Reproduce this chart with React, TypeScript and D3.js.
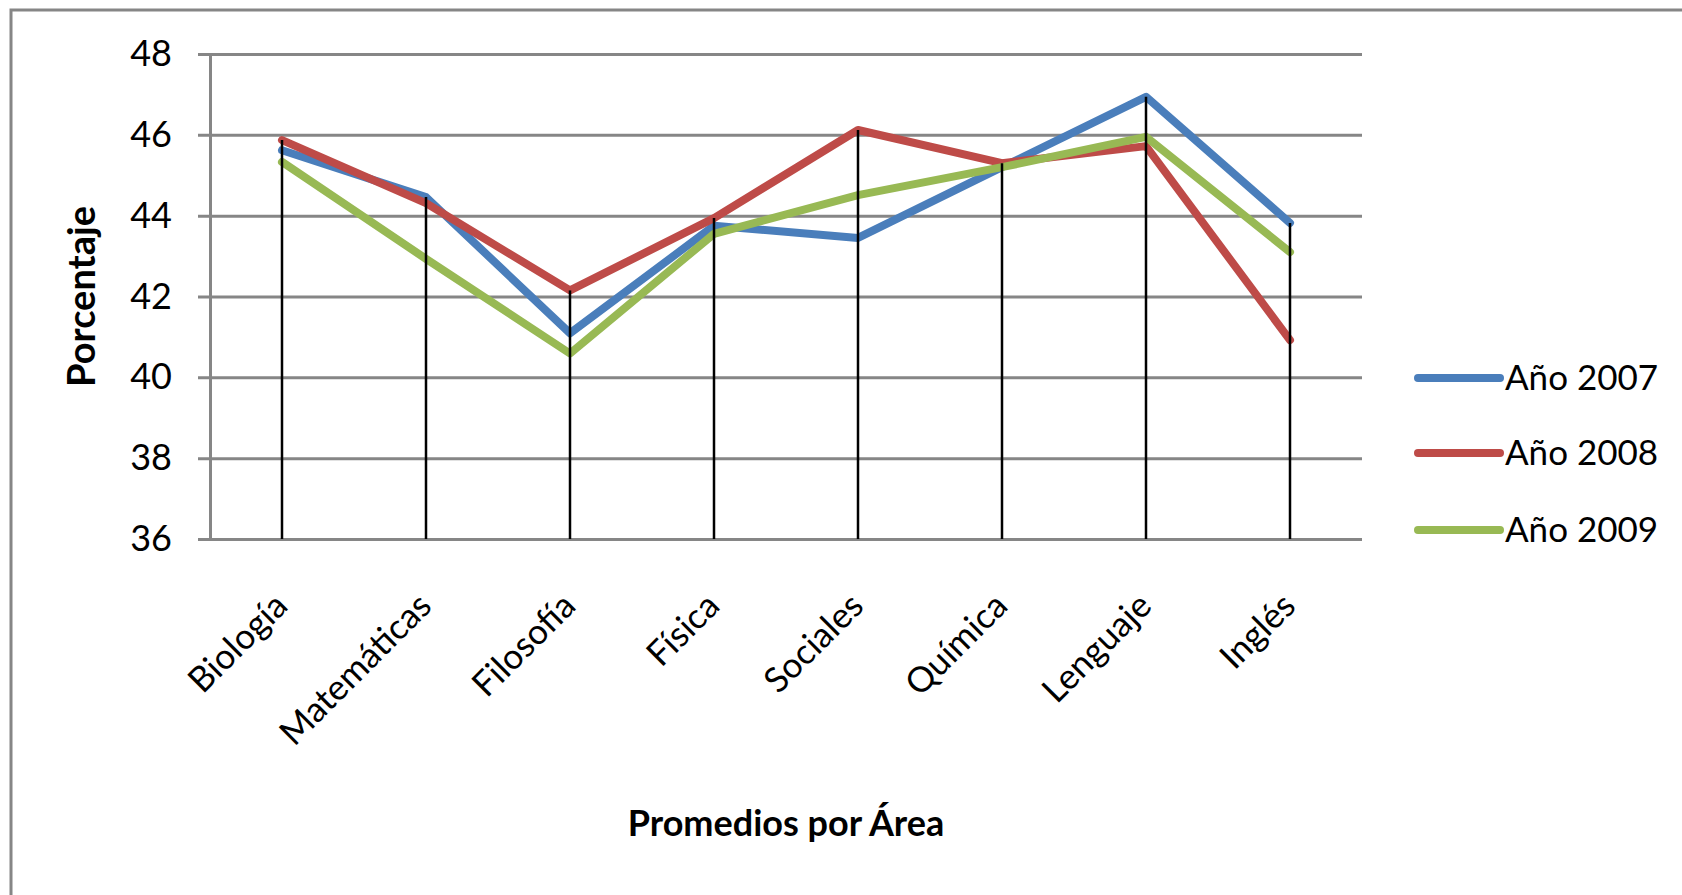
import { useRef, useEffect } from 'react';
import * as d3 from 'd3';

const categories = ['Biología', 'Matemáticas', 'Filosofía', 'Física', 'Sociales', 'Química', 'Lenguaje', 'Inglés'];
const serieNames = ['Año 2007', 'Año 2008', 'Año 2009'];
const serieColors = ['#4A7EBB', '#BE4B48', '#98B954'];
const values2007 = [45.62, 44.46, 41.09, 43.75, 43.45, 45.2, 46.94, 43.82];
const values2008 = [45.87, 44.31, 42.15, 43.94, 46.12, 45.3, 45.72, 40.92];
const values2009 = [45.33, 42.93, 40.59, 43.55, 44.51, 45.2, 45.95, 43.1];
const yTicks = [36, 38, 40, 42, 44, 46, 48];

const W = 1682;
const H = 895;
const FONT = 'Lato, "Noto Sans", sans-serif';

export default function App() {
  const svgRef = useRef<SVGSVGElement>(null);

  useEffect(() => {
    if (!svgRef.current) return;
    const svg = d3.select(svgRef.current);
    svg.selectAll('*').remove();

    const plot = { left: 210, right: 1362, top: 54, bottom: 539 };
    const series = [values2007, values2008, values2009];

    const x = d3.scalePoint<string>()
      .domain(categories)
      .range([plot.left, plot.right])
      .padding(0.5);

    const y = d3.scaleLinear()
      .domain([36, 48])
      .range([plot.bottom, plot.top]);

    // background + chart border (right/bottom edges fall outside the picture)
    svg.append('rect').attr('width', W).attr('height', H).attr('fill', '#fff');
    svg.append('rect')
      .attr('x', 11).attr('y', 10)
      .attr('width', W + 40).attr('height', H + 40)
      .attr('fill', 'none')
      .attr('stroke', '#868686')
      .attr('stroke-width', 3);

    // Grid (also gives the outside tick marks)
    const grid = svg.append('g')
      .attr('transform', `translate(${plot.left - 12},0)`)
      .call(d3.axisLeft(y).tickValues(yTicks).tickSize(-(plot.right - plot.left + 12)).tickFormat(() => ''));
    grid.select('.domain').remove();
    grid.selectAll('.tick line').attr('stroke', '#868686').attr('stroke-width', 3);

    // Y axis
    const yAxis = svg.append('g')
      .attr('transform', `translate(${plot.left},0)`)
      .call(d3.axisLeft(y).tickValues(yTicks).tickSize(0).tickPadding(38).tickFormat(d3.format('d')));
    yAxis.select('.domain').attr('stroke', '#868686').attr('stroke-width', 3);
    yAxis.selectAll('.tick text')
      .attr('fill', '#000')
      .style('font-family', FONT)
      .style('font-size', '36px');

    // X axis labels
    const xAxis = svg.append('g')
      .attr('transform', `translate(0,${plot.bottom})`)
      .call(d3.axisBottom(x).tickSize(0));
    xAxis.select('.domain').remove();
    xAxis.selectAll<SVGTextElement, string>('.tick text')
      .attr('fill', '#000')
      .attr('text-anchor', 'end')
      .attr('y', 0)
      .attr('dy', 0)
      .attr('transform', 'translate(7,69) rotate(-45)')
      .style('font-family', FONT)
      .style('font-size', '35px');

    // Series lines
    const line = d3.line<number>()
      .x((_, i) => x(categories[i]) as number)
      .y(d => y(d));

    series.forEach((vals, s) => {
      svg.append('path')
        .datum(vals)
        .attr('fill', 'none')
        .attr('stroke', serieColors[s])
        .attr('stroke-width', 8)
        .attr('stroke-linejoin', 'round')
        .attr('stroke-linecap', 'round')
        .attr('d', line);
    });

    // Drop lines
    categories.forEach((c, i) => {
      const top = d3.max(series, v => v[i]) as number;
      svg.append('line')
        .attr('x1', x(c) as number).attr('x2', x(c) as number)
        .attr('y1', y(top)).attr('y2', y(36))
        .attr('stroke', '#000')
        .attr('stroke-width', 2.5);
    });

    // Axis titles
    svg.append('text')
      .attr('transform', `translate(95,${(plot.top + plot.bottom) / 2}) rotate(-90)`)
      .attr('text-anchor', 'middle')
      .style('font-family', FONT)
      .style('font-weight', 'bold')
      .style('font-size', '38px')
      .text('Porcentaje');

    svg.append('text')
      .attr('x', (plot.left + plot.right) / 2)
      .attr('y', 836)
      .attr('text-anchor', 'middle')
      .style('font-family', FONT)
      .style('font-weight', 'bold')
      .style('font-size', '36px')
      .text('Promedios por Área');

    // Legend
    const legendY = [378, 453, 530];
    serieNames.forEach((name, s) => {
      svg.append('line')
        .attr('x1', 1418).attr('x2', 1500)
        .attr('y1', legendY[s]).attr('y2', legendY[s])
        .attr('stroke', serieColors[s])
        .attr('stroke-width', 8)
        .attr('stroke-linecap', 'round');
      svg.append('text')
        .attr('x', 1505)
        .attr('y', legendY[s])
        .attr('dy', '0.35em')
        .style('font-family', FONT)
        .style('font-size', '35px')
        .text(name);
    });
  }, []);

  return (
    <svg
      ref={svgRef}
      width={W}
      height={H}
      style={{ position: 'absolute', left: 0, top: 0, display: 'block' }}
    />
  );
}
